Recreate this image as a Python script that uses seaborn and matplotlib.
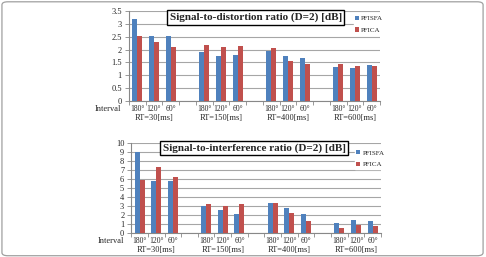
import numpy as np
import pandas as pd
import matplotlib
matplotlib.use("Agg")
import matplotlib.pyplot as plt
import seaborn as sns
from matplotlib.patches import FancyBboxPatch

rt_groups = ["RT=30[ms]", "RT=150[ms]", "RT=400[ms]", "RT=600[ms]"]
intervals = ["180°", "120°", "60°"]
methods = ["PFISFA", "PFICA"]

sdr_pfisfa = [3.18, 2.54, 2.52, 1.89, 1.75, 1.79, 1.95, 1.75, 1.66, 1.32, 1.30, 1.39]
sdr_pfica = [2.54, 2.30, 2.09, 2.19, 2.11, 2.14, 2.05, 1.56, 1.44, 1.44, 1.37, 1.35]
sir_pfisfa = [9.0, 5.83, 5.76, 2.99, 2.58, 2.14, 3.32, 2.84, 2.14, 1.14, 1.44, 1.29]
sir_pfica = [5.87, 7.34, 6.2, 3.21, 3.06, 3.21, 3.32, 2.25, 1.29, 0.59, 0.85, 0.74]

colors = ["#4F81BD", "#C0504D"]

sns.set_theme(style="white")
plt.rcParams["font.family"] = ["Liberation Serif", "DejaVu Serif"]

keys = [f"{g}|{i}" for g in rt_groups for i in intervals]
order = []
for gi, g in enumerate(rt_groups):
    order += [f"{g}|{i}" for i in intervals]
    if gi < len(rt_groups) - 1:
        order.append(f"gap{gi}")


def make_df(a, b):
    return pd.DataFrame({
        "cat": keys * 2,
        "value": list(a) + list(b),
        "method": [methods[0]] * len(a) + [methods[1]] * len(b),
    })


fig = plt.figure(figsize=(4.86, 2.57), dpi=100)
border = FancyBboxPatch((0.004, 0.005), 0.99, 0.988, boxstyle="round,pad=0,rounding_size=0.012",
                        transform=fig.transFigure, facecolor="white", edgecolor="#a0a0a0",
                        linewidth=0.9, zorder=-10)
fig.patches.append(border)

specs = [
    dict(rect=[0.265, 0.607, 0.517, 0.350], a=sdr_pfisfa, b=sdr_pfica, ymax=3.5, step=0.5,
         title="Signal-to-distortion ratio (D=2) [dB]", tpos=(0.526, 0.932), lpos=(0.895, 0.965)),
    dict(rect=[0.270, 0.093, 0.514, 0.350], a=sir_pfisfa, b=sir_pfica, ymax=10, step=1,
         title="Signal-to-interference ratio (D=2) [dB]", tpos=(0.523, 0.424), lpos=(0.895, 0.94)),
]

for s in specs:
    ax = fig.add_axes(s["rect"])
    df = make_df(s["a"], s["b"])
    sns.barplot(data=df, x="cat", y="value", hue="method", order=order, hue_order=methods,
                palette=colors, width=0.6, ax=ax, saturation=1, legend=True, zorder=3,
                linewidth=0, edgecolor="none")
    ax.set_ylim(0, s["ymax"])
    yt = np.arange(0, s["ymax"] + 1e-9, s["step"])
    ax.set_yticks(yt)
    ax.set_yticklabels([f"{v:g}" for v in yt], fontsize=6)
    ax.yaxis.grid(True, color="#a6a6a6", linewidth=0.8, zorder=0)
    ax.set_axisbelow(True)
    ax.set_xlim(-0.5, len(order) - 0.5)
    ax.set_xticks(range(len(order)))
    ax.set_xticklabels([k.split("|")[1] if "|" in k else "" for k in order], fontsize=5.5)
    ax.tick_params(axis="x", length=0, pad=3)
    ax.tick_params(axis="y", length=3, width=0.6, color="#888888", pad=2, left=True, direction="out")
    ax.set_xticks(np.arange(-0.5, len(order), 1), minor=True)
    ax.tick_params(axis="x", which="minor", length=3, width=0.6, color="#888888", bottom=True)
    ax.set_xlabel("")
    ax.set_ylabel("")
    for sp in ["top", "right"]:
        ax.spines[sp].set_visible(False)
    for sp in ["left", "bottom"]:
        ax.spines[sp].set_color("#888888")
        ax.spines[sp].set_linewidth(0.8)
    ax.text(-0.03, -0.085, "Interval", transform=ax.transAxes, ha="right", va="center", fontsize=6)
    for gi, g in enumerate(rt_groups):
        xc = gi * 4 + 1
        ax.text(xc, -0.19, g, transform=ax.get_xaxis_transform(), ha="center", va="center", fontsize=6)
    leg = ax.legend(loc="upper left", bbox_to_anchor=s["lpos"], frameon=True, fontsize=5,
                    handlelength=0.6, handleheight=0.6, handletextpad=0.3, labelspacing=0.9,
                    borderaxespad=0, borderpad=0.2, edgecolor="white", fancybox=False)
    leg.get_frame().set_facecolor("white")
    leg.get_frame().set_alpha(1)
    fig.text(s["tpos"][0], s["tpos"][1], s["title"], ha="center", va="center", fontsize=8,
             fontweight="bold",
             bbox=dict(boxstyle="square,pad=0.2", facecolor="white", edgecolor="black", linewidth=1.0))

fig.savefig("out.png", dpi=100)
